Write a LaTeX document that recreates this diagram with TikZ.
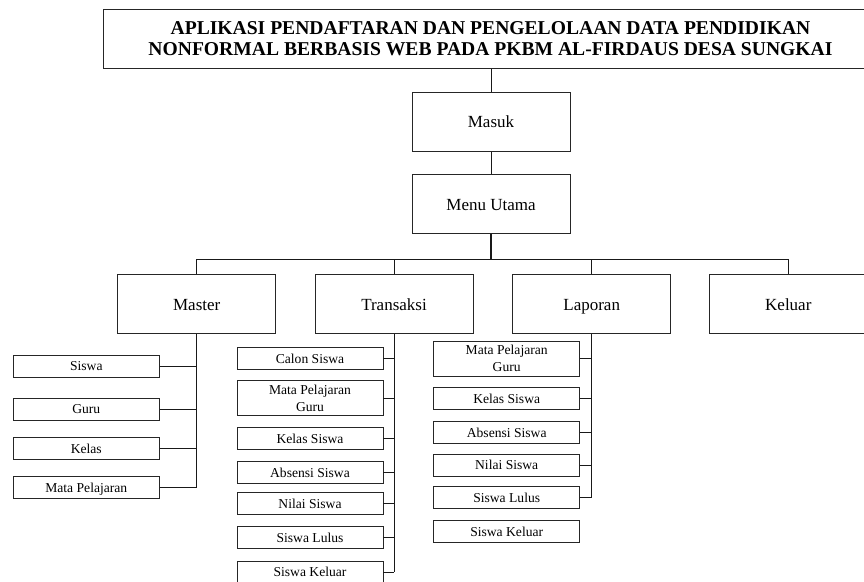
\documentclass[tikz,border=0pt]{standalone}
\usepackage{fontspec}
\setmainfont{Liberation Serif}
\begin{document}
\begin{tikzpicture}[x=1pt,y=-1pt,
  box/.style={draw=black!85,line width=0.9pt,fill=white,inner sep=0pt,align=center},
  bigbox/.style={box,minimum width=158pt,minimum height=59pt,font=\fontsize{17}{19}\selectfont,text height=12pt,text depth=0pt},
  smallbox/.style={box,minimum width=146pt,minimum height=22pt,font=\fontsize{13.6}{16}\selectfont,text height=9.5pt,text depth=0pt},
  tallbox/.style={box,minimum width=146pt,minimum height=35pt,font=\fontsize{13.6}{16.7}\selectfont},
  conn/.style={draw=black!90,line width=1pt}]
\useasboundingbox (0,0) rectangle (864,581);
\clip (0,0) rectangle (864,581);
\fill[white] (0,0) rectangle (864,581);

% title
\node[box,minimum width=775pt,minimum height=59pt,font=\fontsize{19.6}{21.7}\selectfont\bfseries] (title) at (490.5,38.8)
  {APLIKASI PENDAFTARAN DAN PENGELOLAAN DATA PENDIDIKAN\\NONFORMAL BERBASIS WEB PADA PKBM AL-FIRDAUS DESA SUNGKAI};

\node[bigbox] (masuk) at (491,121.7) {Masuk};
\node[bigbox] (menu) at (491,204.3) {Menu Utama};

\node[bigbox] (master) at (196.7,304.3) {Master};
\node[bigbox] (trans) at (394,304.3) {Transaksi};
\node[bigbox] (lap) at (591.7,304.3) {Laporan};
\node[bigbox] (kel) at (788.3,304.3) {Keluar};

% master children
\node[smallbox] (m1) at (86.3,366) {Siswa};
\node[smallbox] (m2) at (86.3,409) {Guru};
\node[smallbox] (m3) at (86.3,448.3) {Kelas};
\node[smallbox] (m4) at (86.3,487.6) {Mata Pelajaran};

% transaksi children
\node[smallbox] (t1) at (310,358.3) {Calon Siswa};
\node[tallbox] (t2) at (310,398) {Mata Pelajaran\\Guru};
\node[smallbox] (t3) at (310,438.3) {Kelas Siswa};
\node[smallbox] (t4) at (310,472.3) {Absensi Siswa};
\node[smallbox] (t5) at (310,503.5) {Nilai Siswa};
\node[smallbox] (t6) at (310,537.5) {Siswa Lulus};
\node[smallbox] (t7) at (310,572) {Siswa Keluar};

% laporan children
\node[tallbox] (l1) at (506.7,358.5) {Mata Pelajaran\\Guru};
\node[smallbox] (l2) at (506.7,398.5) {Kelas Siswa};
\node[smallbox] (l3) at (506.7,432.5) {Absensi Siswa};
\node[smallbox] (l4) at (506.7,465.2) {Nilai Siswa};
\node[smallbox] (l5) at (506.7,497.7) {Siswa Lulus};
\node[smallbox] (l6) at (506.7,531.7) {Siswa Keluar};

% top connectors
\draw[conn] (title.south -| masuk.north) -- (masuk.north);
\draw[conn] (masuk.south) -- (menu.north);
\coordinate (bus) at (196.7,259);
\draw[conn,line width=1.6pt] (menu.south) -- (menu.south |- bus);
\draw[conn] (master.north) -- (bus) -- (bus -| kel.north) -- (kel.north);
\draw[conn] (trans.north) -- (trans.north |- bus);
\draw[conn] (lap.north) -- (lap.north |- bus);

% trunks
\draw[conn,line width=1.3pt] (master.south) -- (master.south |- m4.east);
\foreach \c in {m1,m2,m3,m4} \draw[conn] (\c.east) -- (\c.east -| master.south);
\draw[conn] (trans.south) -- (trans.south |- t7.east);
\foreach \c in {t1,t2,t3,t4,t5,t6,t7} \draw[conn] (\c.east) -- (\c.east -| trans.south);
\draw[conn] (lap.south) -- (lap.south |- l5.east);
\foreach \c in {l1,l2,l3,l4,l5} \draw[conn] (\c.east) -- (\c.east -| lap.south);
\end{tikzpicture}
\end{document}
